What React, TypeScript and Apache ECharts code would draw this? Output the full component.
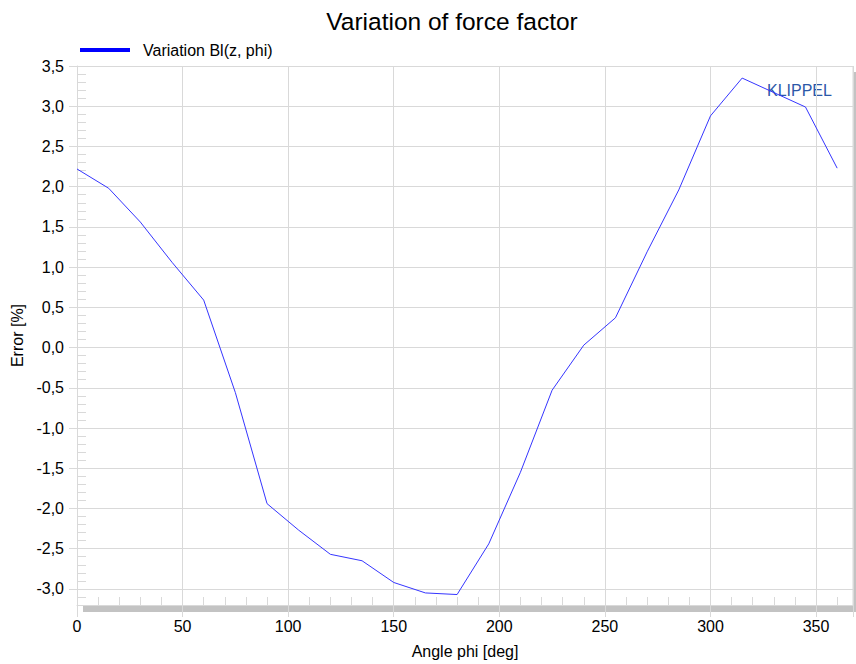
import React, { useEffect, useRef } from "react";
import * as echarts from "echarts";

const angles = [0, 15, 30, 45, 60, 75, 90, 105, 120, 135, 150, 165, 180, 195, 210, 225, 240, 255, 270, 285, 300, 315, 330, 345, 360];
const errors = [2.22, 1.98, 1.56, 1.06, 0.59, -0.56, -1.94, -2.27, -2.57, -2.65, -2.92, -3.05, -3.07, -2.44, -1.55, -0.53, 0.03, 0.37, 1.19, 1.96, 2.88, 3.35, 3.17, 2.99, 2.23];
const yTickValues = [-3.0, -2.5, -2.0, -1.5, -1.0, -0.5, 0.0, 0.5, 1.0, 1.5, 2.0, 2.5, 3.0, 3.5];
const seriesName = "Variation Bl(z, phi)";

const FONT = "'Liberation Sans', Arial, sans-serif";
const GRID_COLOR = "#d9d9d9";

export default function App() {
  const ref = useRef<HTMLDivElement>(null);
  useEffect(() => {
    if (!ref.current) return;
    const chart = echarts.init(ref.current, undefined, { renderer: "svg" });
    const data = angles.map((a, i) => [a, errors[i]]);
    chart.setOption({
      animation: false,
      backgroundColor: "#ffffff",
      title: {
        text: "Variation of force factor",
        left: 447,
        textAlign: "center",
        top: 4,
        textStyle: { fontFamily: FONT, fontSize: 24.5, fontWeight: "normal", color: "#000" },
      },
      legend: {
        left: 75,
        top: 37,
        icon: "rect",
        itemWidth: 50,
        itemHeight: 4,
        itemStyle: { color: "#0000ff" },
        textStyle: { fontFamily: FONT, fontSize: 16, color: "#000", padding: [0, 0, 0, 8] },
        data: [seriesName],
      },
      grid: { left: 77, top: 66, right: 3, bottom: 59, containLabel: false },
      xAxis: [
        {
          type: "value",
          min: 0,
          max: 367.5,
          interval: 50,
          name: "Angle phi [deg]",
          nameLocation: "middle",
          nameGap: 38,
          nameTextStyle: { fontFamily: FONT, fontSize: 16, color: "#000" },
          axisLine: { show: true, onZero: false, lineStyle: { color: GRID_COLOR, width: 1 } },
          axisTick: { show: true, inside: false, length: 12, lineStyle: { color: GRID_COLOR } },
          axisLabel: {
            margin: 13,
            fontFamily: FONT,
            fontSize: 16,
            color: "#000",
            formatter: (v: number) => (Math.abs(v % 50) < 1e-6 ? String(v) : ""),
          },
          splitLine: { show: true, lineStyle: { color: GRID_COLOR, width: 1 } },
        },
        {
          type: "value",
          min: 0,
          max: 367.5,
          interval: 10,
          position: "bottom",
          axisLine: { show: false, onZero: false },
          axisTick: { show: true, inside: true, length: 8, lineStyle: { color: GRID_COLOR } },
          axisLabel: { show: false },
          splitLine: { show: false },
        },
      ],
      yAxis: [
        {
          type: "value",
          min: -3.2,
          max: 3.5,
          name: "Error [%]",
          nameLocation: "middle",
          nameGap: 52,
          nameRotate: 90,
          nameTextStyle: { fontFamily: FONT, fontSize: 16, color: "#000" },
          axisLine: { show: true, onZero: false, lineStyle: { color: GRID_COLOR, width: 1 } },
          axisTick: { show: true, inside: false, length: 8, customValues: yTickValues, lineStyle: { color: GRID_COLOR } },
          axisLabel: {
            margin: 13,
            fontFamily: FONT,
            fontSize: 16,
            color: "#000",
            customValues: yTickValues,
            formatter: (v: number) => v.toFixed(1).replace(".", ","),
          },
          splitLine: { show: true, lineStyle: { color: GRID_COLOR, width: 1 } },
        },
        {
          type: "value",
          min: -3.2,
          max: 3.5,
          interval: 0.1,
          position: "left",
          offset: 0,
          axisLine: { show: false, onZero: false },
          axisTick: { show: true, inside: true, length: 9, lineStyle: { color: GRID_COLOR } },
          axisLabel: { show: false },
          splitLine: { show: false },
        },
      ],
      graphic: [
        { type: "rect", shape: { x: 83, y: 606, width: 773, height: 6 }, style: { fill: "#c3c3c3" }, silent: true },
        { type: "rect", shape: { x: 854, y: 72, width: 4, height: 540 }, style: { fill: "#c3c3c3" }, silent: true },
        { type: "line", shape: { x1: 853, y1: 66, x2: 853, y2: 605 }, style: { stroke: GRID_COLOR, lineWidth: 1 }, silent: true },
        {
          type: "text",
          x: 767,
          y: 82,
          style: { text: "KLIPPEL", fill: "#2b58a8", fontFamily: FONT, fontSize: 16 },
          silent: true,
        },
      ],
      series: [
        {
          name: seriesName,
          type: "line",
          xAxisIndex: 0,
          yAxisIndex: 0,
          data,
          showSymbol: false,
          symbol: "none",
          lineStyle: { color: "#3535ff", width: 1 },
          itemStyle: { color: "#0000ff" },
        },
      ],
    });
    return () => chart.dispose();
  }, []);
  return <div ref={ref} style={{ width: 856, height: 664, position: "absolute", left: 0, top: 0 }} />;
}
